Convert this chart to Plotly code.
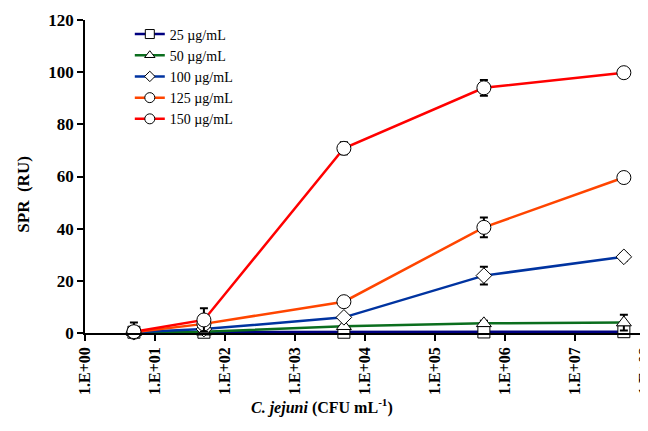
import plotly.graph_objects as go

conc_x = [5, 50, 5000, 500000, 50000000]

s25 = [0.3, 0.3, 0.3, 0.4, 0.5]
e25 = [0.3, 0.3, 0.3, 0.5, 0.5]
s50 = [0.3, 0.5, 2.6, 3.7, 4.0]
e50 = [0.3, 0.5, 0.5, 1.0, 3.0]
s100 = [0.3, 1.5, 6.0, 22.0, 29.2]
e100 = [0.3, 0.5, 1.0, 3.4, 1.5]
s125 = [0.3, 3.5, 12.0, 40.5, 59.6]
e125 = [0.3, 1.0, 1.0, 3.8, 1.0]
s150 = [0.5, 5.0, 70.8, 94.0, 99.8]
e150 = [3.5, 4.5, 2.3, 3.0, 1.0]

names = ["25 µg/mL", "50 µg/mL", "100 µg/mL", "125 µg/mL", "150 µg/mL"]
colors = ["#000080", "#0B6E1E", "#0033A0", "#FF4500", "#FF0000"]
symbols = ["square", "triangle-up", "diamond", "circle", "circle"]
msizes = [12, 13, 12, 14, 14]
legend_sizes = [9, 9, 8, 10, 10]

tick_vals = [1, 10, 100, 1000, 1e4, 1e5, 1e6, 1e7, 1e8]
tick_text = ["1.E+00", "1.E+01", "1.E+02", "1.E+03", "1.E+04",
             "1.E+05", "1.E+06", "1.E+07", "1.E+08"]

fig = go.Figure()
for ys, es, nm, c, sym, ms in zip([s25, s50, s100, s125, s150],
                                  [e25, e50, e100, e125, e150],
                                  names, colors, symbols, msizes):
    fig.add_trace(go.Scatter(
        x=conc_x, y=ys, name=nm, mode="lines+markers", showlegend=False,
        line=dict(color=c, width=2.5),
        marker=dict(symbol=sym, size=ms, color="white",
                    line=dict(color="black", width=1)),
        error_y=dict(type="data", array=es, color="black", thickness=2, width=4),
        cliponaxis=False,
    ))
# legend entries (smaller symbols as in the reference legend)
for nm, c, sym, ls in zip(names, colors, symbols, legend_sizes):
    fig.add_trace(go.Scatter(
        x=[None], y=[None], name=nm, mode="lines+markers",
        line=dict(color=c, width=2.5),
        marker=dict(symbol=sym, size=ls, color="white",
                    line=dict(color="black", width=1)),
    ))

serif = "Liberation Serif, Times New Roman, serif"
fig.update_layout(
    width=640, height=423,
    margin=dict(l=77, r=3, t=12, b=98),
    paper_bgcolor="white", plot_bgcolor="white",
    font=dict(family=serif, color="black"),
    showlegend=True,
    legend=dict(x=0.08, y=1.005, xanchor="left", yanchor="top",
                font=dict(family=serif, size=14, color="black"),
                bgcolor="rgba(0,0,0,0)", tracegroupgap=0, itemwidth=30),
    xaxis=dict(type="log", range=[0, 8.001], tickvals=tick_vals, ticktext=tick_text,
               tickangle=-90, ticks="outside", ticklen=6, tickwidth=1.5,
               tickcolor="black", showline=True, linecolor="black", linewidth=1.5,
               showgrid=False, zeroline=False, ticklabeloverflow="allow",
               automargin=False,
               tickfont=dict(family=serif, size=16, color="black", weight="bold")),
    yaxis=dict(range=[0, 120], tickvals=[0, 20, 40, 60, 80, 100, 120],
               ticks="outside", ticklen=6, tickwidth=1.5, tickcolor="black",
               showline=True, linecolor="black", linewidth=1.5,
               showgrid=False, zeroline=False, automargin=False,
               tickfont=dict(family=serif, size=17, color="black", weight="bold")),
)

fig.add_annotation(text="SPR&nbsp; (RU)", xref="paper", yref="paper",
                   x=-0.109, y=0.445, xanchor="center", yanchor="middle",
                   textangle=-90, showarrow=False,
                   font=dict(family=serif, size=17, color="black", weight="bold"))
fig.add_annotation(text="<i>C. jejuni</i> (CFU mL<sup>-1</sup>)", xref="paper", yref="paper",
                   x=0.423, y=-0.275, xanchor="center", showarrow=False,
                   font=dict(family=serif, size=16, color="black", weight="bold"))

fig.write_html("out.html")
